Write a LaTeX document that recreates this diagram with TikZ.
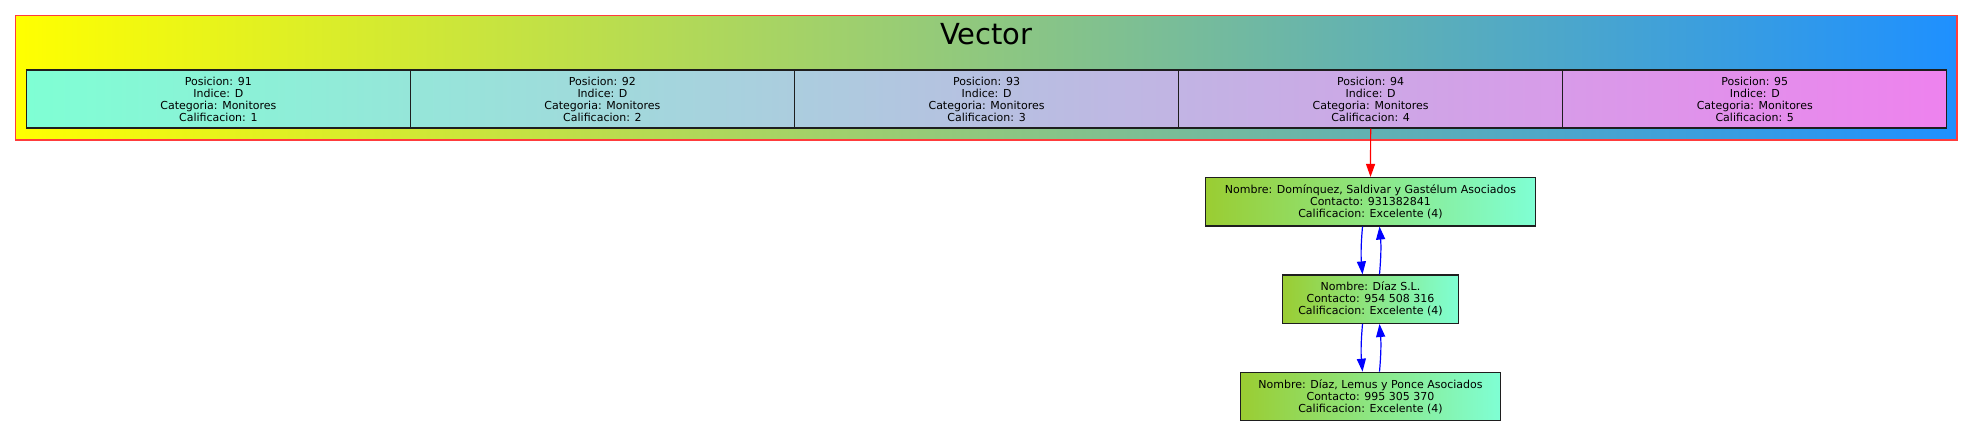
\documentclass[tikz,border=0pt]{standalone}
\usepackage{fontspec}
\setmainfont{DejaVu Sans}
\usetikzlibrary{arrows.meta}
\definecolor{dodger}{RGB}{30,144,255}
\definecolor{aqua}{RGB}{127,255,212}
\definecolor{viol}{RGB}{238,130,238}
\definecolor{ygreen}{RGB}{154,205,50}
\definecolor{bord}{RGB}{30,30,30}
\definecolor{clred}{RGB}{255,60,60}
\begin{document}
\begin{tikzpicture}[x=1pt,y=1pt,
  txt/.style={font=\fontsize{11}{12}\selectfont, align=center, inner sep=0pt},
  cell/.style={txt, draw=bord, line width=1.2pt, minimum width=384.1pt, minimum height=58pt},
  item/.style={txt, draw=bord, line width=1.2pt, left color=ygreen, right color=aqua, minimum height=48.4pt},
  tipp/.style={-{Triangle[length=13pt,width=9pt]}},
  link/.style={tipp, blue, line width=1.2pt},
  redlink/.style={tipp, red, line width=1.2pt}]
\useasboundingbox (0,0) rectangle (1973,-427);
% cluster
\node[draw=clred, line width=1.3pt, left color=yellow, right color=dodger,
      minimum width=1941.3pt, minimum height=124.3pt, inner sep=0pt] (vec) at (986.35,-77.85) {};
\node[anchor=base, font=\fontsize{29}{34}\selectfont, inner sep=0pt] (title) at (986.35,-45) {Vector};
% array background
\node[left color=aqua, right color=viol, minimum width=1920.4pt, minimum height=58pt, inner sep=0pt] (arr) at (986.5,-99) {};
\foreach \i in {1,...,5} {
  \node[cell] (c\i) at ({218.35+(\i-1)*384.1},-99)
    {Posicion: 9\i\\Indice: D\\Categoria: Monitores\\Calificacion: \i};
}
% list nodes
\node[item, minimum width=330pt] (n1) at (1370.5,-201.75)
  {Nombre: Domínquez, Saldivar y Gastélum Asociados\\Contacto: 931382841\\Calificacion: Excelente (4)};
\node[item, minimum width=176.4pt] (n2) at (1370.5,-299.2)
  {Nombre: Díaz S.L.\\Contacto: 954 508 316\\Calificacion: Excelente (4)};
\node[item, minimum width=260.4pt] (n3) at (1370.5,-396.5)
  {Nombre: Díaz, Lemus y Ponce Asociados\\Contacto: 995 305 370\\Calificacion: Excelente (4)};
% edges
\draw[redlink] (c4.south) -- (n1.north);
\draw[link] ([xshift=-8pt]n1.south) to[bend right=5] ([xshift=-8pt]n2.north);
\draw[link] ([xshift=9pt]n2.north) to[bend right=5] ([xshift=9pt]n1.south);
\draw[link] ([xshift=-8pt]n2.south) to[bend right=5] ([xshift=-8pt]n3.north);
\draw[link] ([xshift=9pt]n3.north) to[bend right=5] ([xshift=9pt]n2.south);
\end{tikzpicture}
\end{document}
